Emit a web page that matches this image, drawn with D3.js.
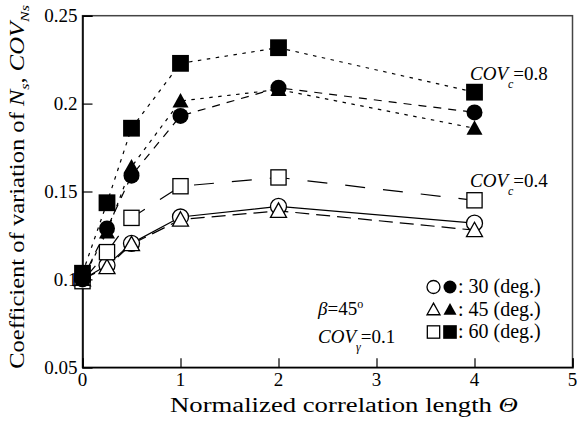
<!DOCTYPE html>
<html>
<head>
<meta charset="utf-8">
<script src="https://cdn.jsdelivr.net/npm/d3@7"></script>
</head>
<body style="margin:0">
<svg id="chart" width="577" height="426"></svg>
<script>
// Normalized correlation length (x values)
const theta = [0, 0.25, 0.5, 1, 2, 4];

// COV of Ns, COV_c = 0.4 (open markers)
const covC04_30 = [0.100, 0.108, 0.1205, 0.1355, 0.1415, 0.132];
const covC04_45 = [0.100, 0.107, 0.120, 0.134, 0.139, 0.128];
const covC04_60 = [0.099, 0.1155, 0.135, 0.153, 0.158, 0.145];

// COV of Ns, COV_c = 0.8 (filled markers)
const covC08_30 = [0.100, 0.129, 0.159, 0.193, 0.209, 0.195];
const covC08_45 = [0.100, 0.127, 0.164, 0.2015, 0.208, 0.186];
const covC08_60 = [0.1035, 0.1436, 0.186, 0.2229, 0.2318, 0.2065];

const xTicks = [0, 1, 2, 3, 4, 5];
const yTicks = [0.05, 0.1, 0.15, 0.2, 0.25];
const yTickLabels = ["0.05", "0.1", "0.15", "0.2", "0.25"];

const series = [
  { values: covC04_30, shape: "circle",   filled: false, dash: null },
  { values: covC04_45, shape: "triangle", filled: false, dash: "14,7" },
  { values: covC04_60, shape: "square",   filled: false, dash: "20,18" },
  { values: covC08_30, shape: "circle",   filled: true,  dash: "8,7" },
  { values: covC08_45, shape: "triangle", filled: true,  dash: "3.5,5.5" },
  { values: covC08_60, shape: "square",   filled: true,  dash: "3.5,5.5" }
];

const svg = d3.select("#chart");
const m = { left: 82.5, right: 572.5, top: 15.7, bottom: 367.3 };

const x = d3.scaleLinear().domain([0, 5]).range([m.left, m.right]);
const y = d3.scaleLinear().domain([0.05, 0.25]).range([m.bottom, m.top]);

// serif text helper
function addText(parent, xp, yp, size) {
  return parent.append("text")
    .attr("x", xp).attr("y", yp)
    .style("font-family", "'Liberation Serif'")
    .style("font-size", size + "px")
    .attr("fill", "#000");
}

// frame
svg.append("rect")
  .attr("x", m.left).attr("y", m.top)
  .attr("width", m.right - m.left).attr("height", m.bottom - m.top)
  .attr("fill", "none").attr("stroke", "#444").attr("stroke-width", 1.5);

// axes with inward ticks (labels drawn separately)
const gx = svg.append("g").attr("transform", `translate(0,${m.bottom})`)
  .call(d3.axisBottom(x).tickValues(xTicks).tickSize(-9).tickFormat(""));
const gy = svg.append("g").attr("transform", `translate(${m.left},0)`)
  .call(d3.axisLeft(y).tickValues(yTicks).tickSize(-10).tickFormat(""));
[gx, gy].forEach(g => {
  g.select(".domain").attr("stroke", "#000").attr("stroke-width", 1.5);
  g.selectAll(".tick line").attr("stroke", "#000").attr("stroke-width", 1.2);
  g.selectAll(".tick text").remove();
});

xTicks.forEach(t => {
  addText(svg, x(t), m.bottom + 19, 19).attr("text-anchor", "middle").text(String(t));
});
yTicks.forEach((t, i) => {
  addText(svg, m.left - 5, y(t) + 6.5, 19).attr("text-anchor", "end").text(yTickLabels[i]);
});

// lines
const line = d3.line().x((d, i) => x(theta[i])).y(d => y(d));
series.forEach(s => {
  svg.append("path")
    .datum(s.values)
    .attr("d", line)
    .attr("fill", "none")
    .attr("stroke", "#000")
    .attr("stroke-width", 1.2)
    .attr("stroke-dasharray", s.dash);
});

// markers
function drawMarker(g, shape, filled, cx, cy, size) {
  const fill = filled ? "#000" : "#fff";
  const sw = filled ? 0 : 1.3;
  if (shape === "circle") {
    g.append("circle").attr("cx", cx).attr("cy", cy).attr("r", size * 0.5)
      .attr("fill", fill).attr("stroke", "#000").attr("stroke-width", sw);
  } else if (shape === "square") {
    const a = filled ? size * 1.05 : size * 0.95;
    g.append("rect").attr("x", cx - a / 2).attr("y", cy - a / 2)
      .attr("width", a).attr("height", a)
      .attr("fill", fill).attr("stroke", "#000").attr("stroke-width", sw);
  } else {
    const w = size, h = size * 0.9;
    const pts = [[cx, cy - h * 0.55], [cx + w / 2, cy + h * 0.45], [cx - w / 2, cy + h * 0.45]];
    g.append("polygon").attr("points", pts.map(p => p.join(",")).join(" "))
      .attr("fill", fill).attr("stroke", "#000").attr("stroke-width", sw);
  }
}

const mk = svg.append("g");
series.forEach(s => {
  s.values.forEach((v, i) => drawMarker(mk, s.shape, s.filled, x(theta[i]), y(v), 16));
});

// annotations
function covLabel(xp, yp, sub, val) {
  const t = addText(svg, xp, yp, 19);
  t.append("tspan").style("font-style", "italic").text("COV");
  t.append("tspan").attr("dy", 8).style("font-style", "italic").style("font-size", "12px").text(sub);
  t.append("tspan").attr("dy", -8).text("=" + val);
}
covLabel(470, 80, "c", "0.8");
covLabel(470, 187, "c", "0.4");

const beta = addText(svg, 318, 315, 19);
beta.append("tspan").style("font-style", "italic").text("β");
beta.append("tspan").text("=45");
beta.append("tspan").attr("dy", -7).style("font-size", "12px").text("o");
covLabel(318, 343, "γ", "0.1");

// legend
const legRows = [
  { shape: "circle", label: ": 30 (deg.)" },
  { shape: "triangle", label: ": 45 (deg.)" },
  { shape: "square", label: ": 60 (deg.)" }
];
legRows.forEach((r, i) => {
  const by = 293 + i * 22.5;
  drawMarker(svg, r.shape, false, 433.5, by - 6, 13);
  drawMarker(svg, r.shape, true, 450, by - 6, 13);
  addText(svg, 458, by, 20).text(r.label);
});

// axis titles, widened to the broad face of the figure lettering
function widen(sel, target) {
  const w = sel.node().getComputedTextLength();
  return w > 0 ? target / w : 1;
}

const xt = addText(svg, 0, 0, 20);
xt.append("tspan").text("Normalized correlation length ");
xt.append("tspan").style("font-style", "italic").text("Θ");
xt.attr("transform", `translate(170,411.5) scale(${widen(xt, 348)},1)`);

const yt = addText(svg, 0, 0, 20).attr("text-anchor", "middle");
yt.append("tspan").text("Coefficient of variation of ");
yt.append("tspan").style("font-style", "italic").text("N");
yt.append("tspan").attr("dy", 5).style("font-style", "italic").style("font-size", "13px").text("s");
yt.append("tspan").attr("dy", -5).text(", ");
yt.append("tspan").style("font-style", "italic").text("COV");
yt.append("tspan").attr("dy", 5).style("font-style", "italic").style("font-size", "13px").text("Ns");
yt.attr("transform", `translate(24,187) rotate(-90) scale(${widen(yt, 364)},1)`);
</script>
</body>
</html>
